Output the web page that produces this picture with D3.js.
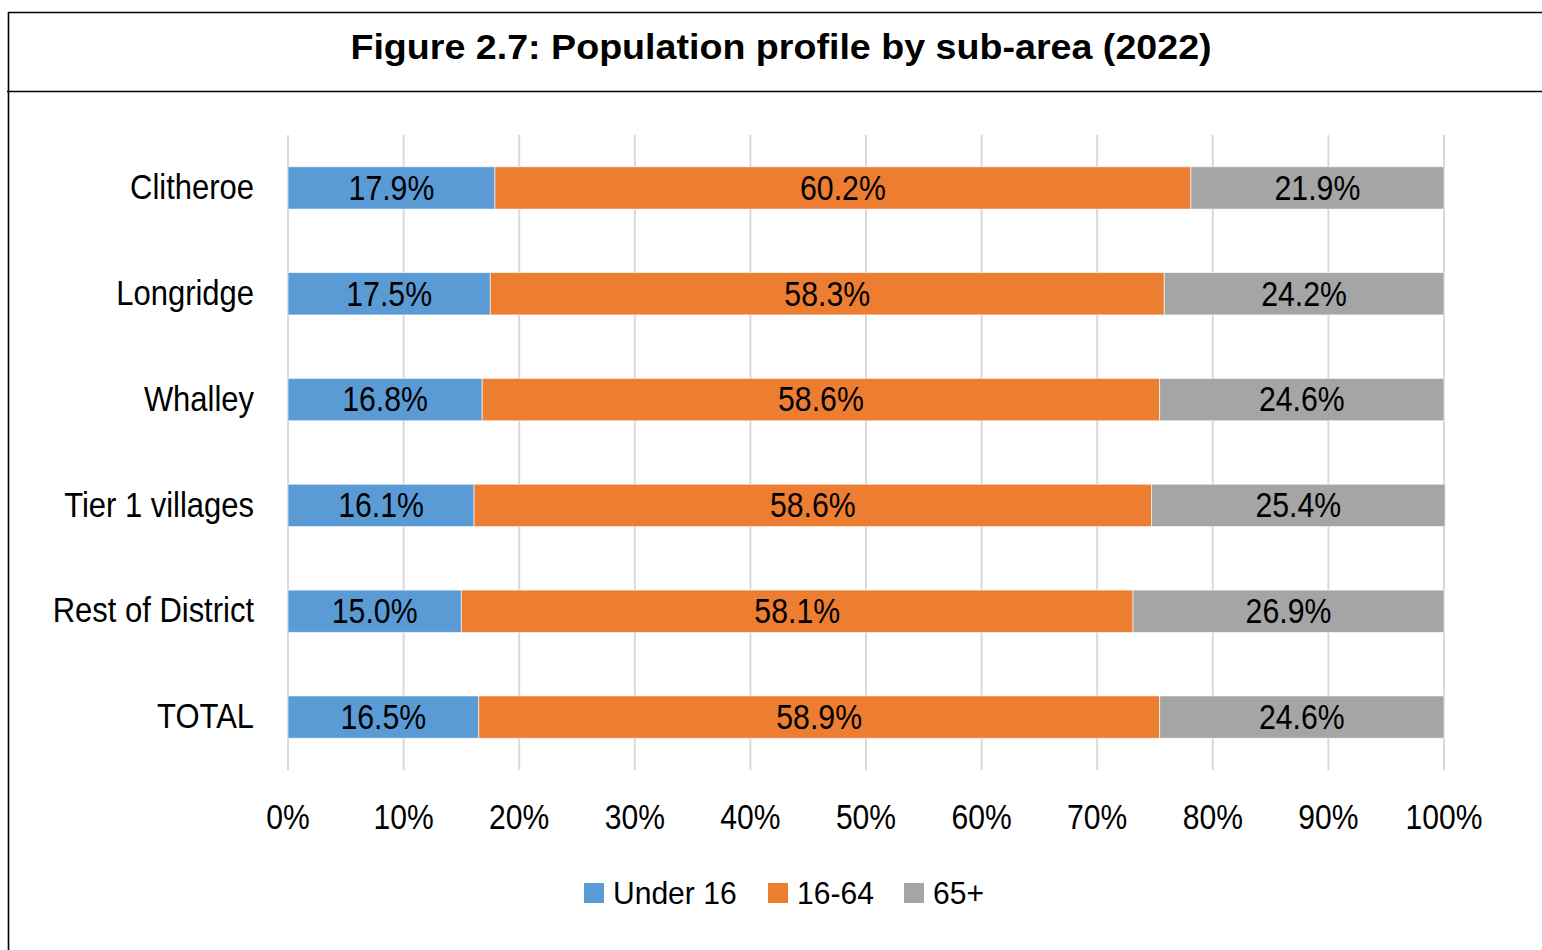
<!DOCTYPE html>
<html>
<head>
<meta charset="utf-8">
<script src="https://cdn.jsdelivr.net/npm/d3@7"></script>
<style>
  body { margin: 0; background: #fff; }
  text { font-family: "Liberation Sans", Arial, sans-serif; }
</style>
</head>
<body>
<svg id="chart" width="1542" height="950"></svg>
<script>
const areas = ['Clitheroe', 'Longridge', 'Whalley', 'Tier 1 villages', 'Rest of District', 'TOTAL'];
const under16 = [17.9, 17.5, 16.8, 16.1, 15.0, 16.5];
const age16to64 = [60.2, 58.3, 58.6, 58.6, 58.1, 58.9];
const over65 = [21.9, 24.2, 24.6, 25.4, 26.9, 24.6];
const seriesNames = ['Under 16', '16-64', '65+'];
const colours = ['#5b9bd5', '#ed7d31', '#a5a5a5'];
const ticks = [0, 10, 20, 30, 40, 50, 60, 70, 80, 90, 100];

// narrow look: no condensed font installed, so squeeze horizontally
const squeeze = (x, y, k) => `translate(${x},${y}) scale(${k},1)`;

const svg = d3.select('#chart');

// frame + title box
svg.append('line').attr('x1', 8).attr('x2', 1542).attr('y1', 12.5).attr('y2', 12.5)
  .attr('stroke', '#000').attr('stroke-width', 1.6);
svg.append('line').attr('x1', 7).attr('x2', 1542).attr('y1', 91.5).attr('y2', 91.5)
  .attr('stroke', '#000').attr('stroke-width', 1.6);
svg.append('line').attr('x1', 8.5).attr('x2', 8.5).attr('y1', 12).attr('y2', 950)
  .attr('stroke', '#000').attr('stroke-width', 1.6);
svg.append('text')
  .attr('transform', 'translate(781,59) scale(1.075,1)')
  .attr('text-anchor', 'middle')
  .style('font-weight', 'bold')
  .style('font-size', '35px')
  .text('Figure 2.7: Population profile by sub-area (2022)');

const x = d3.scaleLinear().domain([0, 100]).range([288, 1444]);
const y = d3.scaleBand().domain(areas).range([135, 770]).paddingInner(0.6).paddingOuter(0.3);

// gridlines
svg.append('g')
  .selectAll('line')
  .data(ticks)
  .join('line')
  .attr('x1', (d) => x(d)).attr('x2', (d) => x(d))
  .attr('y1', 135).attr('y2', 770)
  .attr('stroke', '#d9d9d9')
  .attr('stroke-width', 2);

const rows = areas.map((a, i) => ({ area: a, 'Under 16': under16[i], '16-64': age16to64[i], '65+': over65[i] }));
const stacked = d3.stack().keys(seriesNames)(rows);

const layers = svg.append('g')
  .selectAll('g')
  .data(stacked)
  .join('g')
  .attr('fill', (d, i) => colours[i]);

layers.selectAll('rect')
  .data((d) => d)
  .join('rect')
  .attr('x', (d) => x(d[0]))
  .attr('width', (d) => x(d[1]) - x(d[0]))
  .attr('y', (d) => y(d.data.area))
  .attr('height', y.bandwidth())
  .attr('stroke', '#fff')
  .attr('stroke-opacity', 0.6)
  .attr('stroke-width', 1);

layers.selectAll('text')
  .data((d) => d.map((p) => ({ p, key: d.key })))
  .join('text')
  .attr('transform', (d) => squeeze((x(d.p[0]) + x(d.p[1])) / 2, y(d.p.data.area) + y.bandwidth() / 2, 0.865))
  .attr('dy', '0.34em')
  .attr('text-anchor', 'middle')
  .attr('fill', '#000')
  .style('font-size', '35px')
  .text((d) => `${d.p.data[d.key].toFixed(1)}%`);

// category labels
svg.append('g')
  .selectAll('text')
  .data(areas)
  .join('text')
  .attr('transform', (d) => squeeze(254, y(d) + y.bandwidth() / 2, 0.885))
  .attr('dy', '0.32em')
  .attr('text-anchor', 'end')
  .style('font-size', '35px')
  .text((d) => d);

// x tick labels
svg.append('g')
  .selectAll('text')
  .data(ticks)
  .join('text')
  .attr('transform', (d) => squeeze(x(d), 829, 0.86))
  .attr('text-anchor', 'middle')
  .style('font-size', '35px')
  .text((d) => `${d}%`);

// legend
const legendX = [584, 768, 904];
const legend = svg.append('g')
  .selectAll('g')
  .data(seriesNames)
  .join('g')
  .attr('transform', (d, i) => `translate(${legendX[i]},883)`);
legend.append('rect').attr('width', 20).attr('height', 20).attr('fill', (d, i) => colours[i]);
legend.append('text')
  .attr('transform', 'translate(29,10) scale(0.97,1)')
  .attr('dy', '0.36em')
  .style('font-size', '31px')
  .text((d) => d);
</script>
</body>
</html>
